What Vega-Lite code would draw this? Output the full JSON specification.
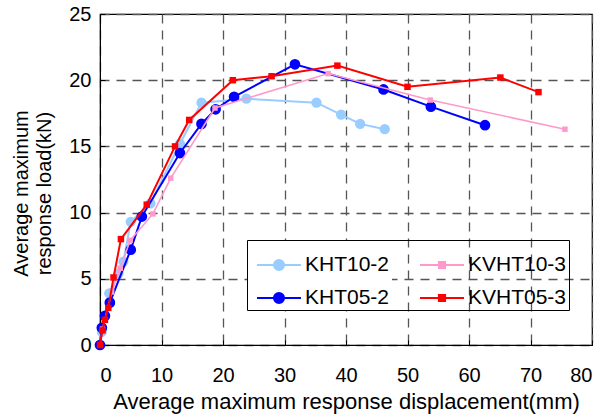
{
  "$schema": "https://vega.github.io/schema/vega-lite/v6.json",
  "width": 492,
  "height": 331,
  "autosize": "none",
  "padding": {"left": 100, "top": 14, "right": 14, "bottom": 74},
  "background": "white",
  "config": {
    "view": {"stroke": "black", "strokeWidth": 1.2},
    "font": "Liberation Sans",
    "axis": {
      "labelFont": "Liberation Sans",
      "labelFontSize": 20,
      "labelColor": "black",
      "titleFont": "Liberation Sans",
      "titleFontSize": 20,
      "titleFontWeight": "normal",
      "titleColor": "black",
      "domainColor": "black",
      "tickColor": "black",
      "gridColor": "#555555",
      "gridDash": [9, 7],
      "gridWidth": 1.3,
      "gridOpacity": 1
    },
    "legend": {
      "labelFont": "Liberation Sans",
      "labelFontSize": 21,
      "labelColor": "black",
      "labelOffset": 3,
      "labelLimit": 200,
      "symbolSize": 1936,
      "symbolStrokeWidth": 2,
      "symbolOpacity": 1,
      "direction": "vertical",
      "rowPadding": 0,
      "padding": 2
    }
  },
  "data": {
    "values": [
      {"series": "KHT10-2", "disp": 0, "load": 0},
      {"series": "KHT10-2", "disp": 0.3, "load": 1.0},
      {"series": "KHT10-2", "disp": 1.5, "load": 3.9},
      {"series": "KHT10-2", "disp": 3.0, "load": 5.4},
      {"series": "KHT10-2", "disp": 3.8, "load": 6.3},
      {"series": "KHT10-2", "disp": 5.0, "load": 9.3},
      {"series": "KHT10-2", "disp": 8.2, "load": 10.7},
      {"series": "KHT10-2", "disp": 13.0, "load": 15.2},
      {"series": "KHT10-2", "disp": 16.5, "load": 18.3},
      {"series": "KHT10-2", "disp": 23.8, "load": 18.6},
      {"series": "KHT10-2", "disp": 35.2, "load": 18.3},
      {"series": "KHT10-2", "disp": 39.2, "load": 17.4},
      {"series": "KHT10-2", "disp": 42.3, "load": 16.7},
      {"series": "KHT10-2", "disp": 46.3, "load": 16.3},
      {"series": "KVHT10-3", "disp": 0, "load": 0},
      {"series": "KVHT10-3", "disp": 0.4, "load": 1.2},
      {"series": "KVHT10-3", "disp": 1.9, "load": 4.0},
      {"series": "KVHT10-3", "disp": 3.3, "load": 5.8},
      {"series": "KVHT10-3", "disp": 4.9, "load": 7.9},
      {"series": "KVHT10-3", "disp": 8.6, "load": 9.9},
      {"series": "KVHT10-3", "disp": 11.5, "load": 12.6},
      {"series": "KVHT10-3", "disp": 18.7, "load": 17.9},
      {"series": "KVHT10-3", "disp": 37.1, "load": 20.5},
      {"series": "KVHT10-3", "disp": 53.7, "load": 18.5},
      {"series": "KVHT10-3", "disp": 75.6, "load": 16.3},
      {"series": "KHT05-2", "disp": 0, "load": 0},
      {"series": "KHT05-2", "disp": 0.3, "load": 1.3},
      {"series": "KHT05-2", "disp": 0.8, "load": 2.2},
      {"series": "KHT05-2", "disp": 1.6, "load": 3.2},
      {"series": "KHT05-2", "disp": 5.0, "load": 7.2},
      {"series": "KHT05-2", "disp": 6.8, "load": 9.7},
      {"series": "KHT05-2", "disp": 13.0, "load": 14.5},
      {"series": "KHT05-2", "disp": 16.5, "load": 16.7},
      {"series": "KHT05-2", "disp": 18.8, "load": 17.8},
      {"series": "KHT05-2", "disp": 21.8, "load": 18.75},
      {"series": "KHT05-2", "disp": 31.7, "load": 21.2},
      {"series": "KHT05-2", "disp": 46.1, "load": 19.3},
      {"series": "KHT05-2", "disp": 53.8, "load": 18.0},
      {"series": "KHT05-2", "disp": 62.6, "load": 16.6},
      {"series": "KVHT05-3", "disp": 0, "load": 0},
      {"series": "KVHT05-3", "disp": 0.4, "load": 1.1},
      {"series": "KVHT05-3", "disp": 0.8, "load": 1.9},
      {"series": "KVHT05-3", "disp": 1.35, "load": 2.8},
      {"series": "KVHT05-3", "disp": 2.2, "load": 5.1},
      {"series": "KVHT05-3", "disp": 3.4, "load": 8.0},
      {"series": "KVHT05-3", "disp": 7.6, "load": 10.6},
      {"series": "KVHT05-3", "disp": 12.2, "load": 15.0},
      {"series": "KVHT05-3", "disp": 14.5, "load": 17.0},
      {"series": "KVHT05-3", "disp": 21.6, "load": 20.0},
      {"series": "KVHT05-3", "disp": 27.9, "load": 20.3},
      {"series": "KVHT05-3", "disp": 38.6, "load": 21.1},
      {"series": "KVHT05-3", "disp": 50.0, "load": 19.5},
      {"series": "KVHT05-3", "disp": 65.1, "load": 20.2},
      {"series": "KVHT05-3", "disp": 71.3, "load": 19.1}
    ]
  },
  "encoding": {
    "x": {
      "field": "disp", "type": "quantitative",
      "scale": {"domain": [0, 80], "nice": false, "zero": false},
      "axis": {
        "values": [0, 10, 20, 30, 40, 50, 60, 70, 80],
        "title": "Average maximum response displacement(mm)",
        "titleFontSize": 22,
        "tickSize": -5,
        "labelPadding": 25,
        "titleBaseline": "alphabetic",
        "titleY": 63,
        "grid": true
      }
    },
    "y": {
      "field": "load", "type": "quantitative",
      "scale": {"domain": [0, 25], "nice": false, "zero": false},
      "axis": {
        "values": [0, 5, 10, 15, 20, 25],
        "title": ["Average maximum", "response load(kN)"],
        "tickSize": -5,
        "labelPadding": 14,
        "titleAngle": -90,
        "titleAlign": "center",
        "titleBaseline": "alphabetic",
        "titleLineHeight": 23,
        "titleX": -73,
        "titleY": 179,
        "grid": true
      }
    }
  },
  "layer": [
    {
      "encoding": {
        "color": {
          "field": "series", "type": "nominal",
          "scale": {"domain": ["KHT10-2", "KHT05-2"], "range": ["#99CCFF", "#0000FF"]},
          "legend": {
            "title": null,
            "orient": "none",
            "legendX": 147,
            "legendY": 226,
            "symbolOffset": 7,
            "fillColor": "white",
            "symbolType": "M-1,0H1M0.23,0A0.23,0.23,0,1,1,-0.23,0A0.23,0.23,0,1,1,0.23,0Z"
          }
        }
      },
      "layer": [
        {"transform": [{"filter": "datum.series === 'KHT10-2'"}], "mark": {"type": "line", "strokeWidth": 2}},
        {"transform": [{"filter": "datum.series === 'KHT10-2'"}], "mark": {"type": "point", "filled": true, "shape": "circle", "size": 105, "opacity": 1}},
        {"transform": [{"filter": "datum.series === 'KHT05-2'"}], "mark": {"type": "line", "strokeWidth": 2}},
        {"transform": [{"filter": "datum.series === 'KHT05-2'"}], "mark": {"type": "point", "filled": true, "shape": "circle", "size": 115, "opacity": 1}}
      ]
    },
    {
      "encoding": {
        "color": {
          "field": "series", "type": "nominal",
          "scale": {"domain": ["KVHT10-3", "KVHT05-3"], "range": ["#FF99CC", "#FF0000"]},
          "legend": {
            "title": null,
            "orient": "none",
            "legendX": 147,
            "legendY": 226,
            "symbolOffset": 170,
            "strokeColor": "black",
            "symbolType": "M-1,0H1M-0.14,-0.14H0.14V0.14H-0.14Z"
          }
        }
      },
      "layer": [
        {"transform": [{"filter": "datum.series === 'KVHT10-3'"}], "mark": {"type": "line", "strokeWidth": 1.6}},
        {"transform": [{"filter": "datum.series === 'KVHT10-3'"}], "mark": {"type": "point", "filled": true, "shape": "square", "size": 30, "opacity": 1}},
        {"transform": [{"filter": "datum.series === 'KVHT05-3'"}], "mark": {"type": "line", "strokeWidth": 2}},
        {"transform": [{"filter": "datum.series === 'KVHT05-3'"}], "mark": {"type": "point", "filled": true, "shape": "square", "size": 42, "opacity": 1}}
      ]
    }
  ],
  "resolve": {"scale": {"color": "independent"}, "legend": {"color": "independent"}}
}
